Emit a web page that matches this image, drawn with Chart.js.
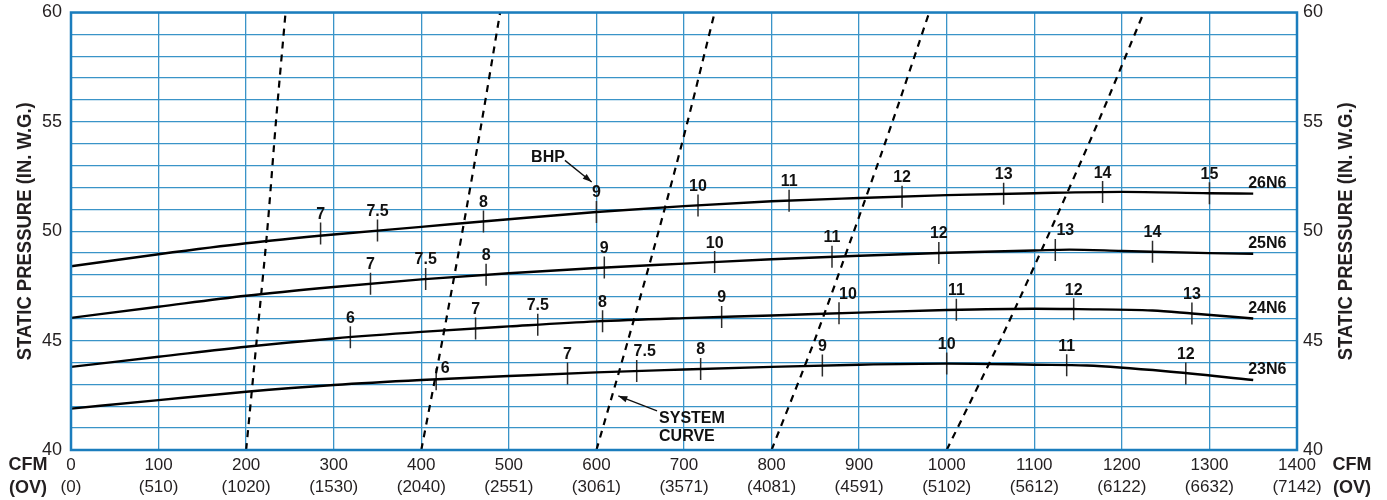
<!DOCTYPE html>
<html>
<head>
<meta charset="utf-8">
<script src="https://cdn.jsdelivr.net/npm/chart.js@4/dist/chart.umd.min.js"></script>
<style>
  html, body { margin: 0; padding: 0; background: #ffffff; }
  #wrap { width: 1387px; height: 500px; position: relative; }
</style>
</head>
<body>
<div id="wrap"><canvas id="fanChart" width="1387" height="500"></canvas></div>
<script>
// Axis ticks: airflow (CFM) with outlet velocity (OV) below, static pressure
const cfmTicks = [0, 100, 200, 300, 400, 500, 600, 700, 800, 900, 1000, 1100, 1200, 1300, 1400];
const ovTicks = ['(0)', '(510)', '(1020)', '(1530)', '(2040)', '(2551)', '(3061)', '(3571)',
                 '(4081)', '(4591)', '(5102)', '(5612)', '(6122)', '(6632)', '(7142)'];
const spTicks = [40, 45, 50, 55, 60];

// Fan curves (CFM vs static pressure)
const fan23Cfm = [0, 100, 200, 300, 400, 500, 600, 700, 800, 900, 1000, 1100, 1160, 1250, 1350];
const fan23Sp  = [41.89, 42.28, 42.66, 42.97, 43.2, 43.38, 43.55, 43.68, 43.8, 43.9, 43.95, 43.9, 43.86, 43.6, 43.2];
const fan24Cfm = [0, 100, 200, 300, 400, 500, 600, 700, 800, 900, 1000, 1100, 1150, 1235, 1280, 1350];
const fan24Sp  = [43.8, 44.26, 44.72, 45.1, 45.4, 45.65, 45.88, 46.03, 46.15, 46.28, 46.4, 46.46, 46.44, 46.38, 46.24, 46.01];
const fan25Cfm = [0, 100, 200, 300, 400, 500, 600, 700, 800, 900, 1000, 1100, 1140, 1200, 1300, 1350];
const fan25Sp  = [46.04, 46.55, 47.05, 47.45, 47.8, 48.08, 48.32, 48.52, 48.72, 48.88, 49.02, 49.12, 49.16, 49.1, 49.0, 48.97];
const fan26Cfm = [0, 100, 200, 300, 400, 500, 600, 700, 800, 900, 1000, 1100, 1200, 1300, 1350];
const fan26Sp  = [48.4, 48.95, 49.45, 49.85, 50.2, 50.55, 50.88, 51.15, 51.37, 51.52, 51.65, 51.74, 51.8, 51.74, 51.72];

// Brake horsepower marks along each fan curve
const bhp23Cfm = [417, 567, 646, 719, 858, 1000, 1137, 1273];
const bhp23Sp  = [43.23, 43.5, 43.61, 43.7, 43.86, 43.95, 43.88, 43.5];
const bhp23Labels = ['6', '7', '7.5', '8', '9', '10', '11', '12'];
const bhp24Cfm = [319, 462, 533, 607, 743, 877, 1011, 1145, 1280];
const bhp24Sp  = [45.16, 45.55, 45.73, 45.89, 46.08, 46.25, 46.41, 46.44, 46.24];
const bhp24Labels = ['6', '7', '7.5', '8', '9', '10', '11', '12', '13'];
const bhp25Cfm = [342, 405, 474, 609, 735, 869, 991, 1124, 1235];
const bhp25Sp  = [47.6, 47.82, 48.01, 48.34, 48.59, 48.83, 49.01, 49.14, 49.06];
const bhp25Labels = ['7', '7.5', '8', '9', '10', '11', '12', '13', '14'];
const bhp26Cfm = [285, 350, 471, 600, 716, 820, 949, 1065, 1178, 1300];
const bhp26Sp  = [49.9, 50.03, 50.45, 50.88, 51.18, 51.4, 51.58, 51.71, 51.79, 51.74];
const bhp26Labels = ['7', '7.5', '8', '9', '10', '11', '12', '13', '14', '15'];

// System curves (dashed)
const sysSp   = [40, 45, 50, 55, 60];
const sys1Cfm = [200, 212, 224, 234, 245];
const sys2Cfm = [400, 424, 447, 469, 490];
const sys3Cfm = [600, 636, 671, 704, 735];
const sys4Cfm = [800, 849, 894, 938, 980];
const sys5Cfm = [1000, 1061, 1118, 1173, 1225];

const FONT = '"Liberation Sans", Arial, Helvetica, sans-serif';
const GRID = '#3a94c8';
const FRAME = '#1b7dbd';
const INK = '#231f20';

const pts = (xs, ys) => xs.map((x, i) => ({ x: x, y: ys[i] }));

const fans = [
  { name: '23N6', cfm: fan23Cfm, sp: fan23Sp, bCfm: bhp23Cfm, bSp: bhp23Sp, bLab: bhp23Labels },
  { name: '24N6', cfm: fan24Cfm, sp: fan24Sp, bCfm: bhp24Cfm, bSp: bhp24Sp, bLab: bhp24Labels },
  { name: '25N6', cfm: fan25Cfm, sp: fan25Sp, bCfm: bhp25Cfm, bSp: bhp25Sp, bLab: bhp25Labels },
  { name: '26N6', cfm: fan26Cfm, sp: fan26Sp, bCfm: bhp26Cfm, bSp: bhp26Sp, bLab: bhp26Labels }
];
const systems = [sys1Cfm, sys2Cfm, sys3Cfm, sys4Cfm, sys5Cfm];

const datasets = [];
systems.forEach(s => datasets.push({
  type: 'line', data: pts(s, sysSp), borderColor: '#000', borderWidth: 2.2,
  borderDash: [7, 6], pointRadius: 0, tension: 0.3, fill: false, kind: 'system'
}));
fans.forEach(f => datasets.push({
  type: 'line', data: pts(f.cfm, f.sp), borderColor: '#000', borderWidth: 2.4,
  pointRadius: 0, cubicInterpolationMode: 'monotone', fill: false, kind: 'fan', fanName: f.name
}));
fans.forEach(f => datasets.push({
  type: 'scatter', data: pts(f.bCfm, f.bSp), showLine: false,
  pointStyle: 'line', rotation: 90, pointRadius: 11, borderWidth: 1.5,
  borderColor: '#2b2b2b', backgroundColor: '#2b2b2b', kind: 'bhp', labels: f.bLab, fanName: f.name
}));

// Small label nudges where a BHP number sits beside its mark
const labelNudge = {
  '23N6:6': [9, 8], '23N6:7.5': [8, 0], '24N6:10': [9, 0], '25N6:13': [10, 0]
};

function arrow(ctx, x1, y1, x2, y2) {
  ctx.beginPath();
  ctx.moveTo(x1, y1);
  ctx.lineTo(x2, y2);
  ctx.stroke();
  const a = Math.atan2(y2 - y1, x2 - x1);
  const L = 9, W = 3.2;
  ctx.beginPath();
  ctx.moveTo(x2, y2);
  ctx.lineTo(x2 - L * Math.cos(a) + W * Math.sin(a), y2 - L * Math.sin(a) - W * Math.cos(a));
  ctx.lineTo(x2 - L * Math.cos(a) - W * Math.sin(a), y2 - L * Math.sin(a) + W * Math.cos(a));
  ctx.closePath();
  ctx.fill();
}

const decorPlugin = {
  id: 'decor',
  afterDatasetsDraw(chart) {
    const ctx = chart.ctx;
    const a = chart.chartArea;
    const xs = chart.scales.x, ys = chart.scales.y;
    ctx.save();

    // plot frame
    ctx.strokeStyle = FRAME;
    ctx.lineWidth = 2.5;
    ctx.strokeRect(a.left, a.top, a.right - a.left, a.bottom - a.top);

    // BHP numbers above each mark
    ctx.fillStyle = '#111';
    ctx.font = 'bold 16px ' + FONT;
    ctx.textAlign = 'center';
    ctx.textBaseline = 'middle';
    chart.data.datasets.forEach(ds => {
      if (ds.kind !== 'bhp') return;
      ds.data.forEach((p, i) => {
        const n = labelNudge[ds.fanName + ':' + ds.labels[i]] || [0, 0];
        const px = xs.getPixelForValue(p.x) + n[0];
        const py = ys.getPixelForValue(p.y) - 19 + n[1];
        ctx.fillText(ds.labels[i], px, py);
      });
    });

    // fan names at the end of each curve
    ctx.font = 'bold 16px ' + FONT;
    ctx.textAlign = 'left';
    fans.forEach(f => {
      const last = f.cfm.length - 1;
      ctx.fillText(f.name, xs.getPixelForValue(f.cfm[last]) - 5, ys.getPixelForValue(f.sp[last]) - 10);
    });

    // BHP callout
    ctx.strokeStyle = '#111';
    ctx.lineWidth = 1.3;
    ctx.textAlign = 'center';
    ctx.fillText('BHP', xs.getPixelForValue(544.7), ys.getPixelForValue(53.37));
    arrow(ctx, xs.getPixelForValue(564), ys.getPixelForValue(53.24),
               xs.getPixelForValue(594.6), ys.getPixelForValue(52.25));

    // system curve callout
    ctx.textAlign = 'left';
    ctx.fillText('SYSTEM', xs.getPixelForValue(671.5), ys.getPixelForValue(41.45));
    ctx.fillText('CURVE', xs.getPixelForValue(671.5), ys.getPixelForValue(40.61));
    arrow(ctx, xs.getPixelForValue(669.2), ys.getPixelForValue(41.79),
               xs.getPixelForValue(625), ys.getPixelForValue(42.47));

    // axis titles
    ctx.fillStyle = INK;
    ctx.font = 'bold 21px ' + FONT;
    ctx.textAlign = 'center';
    const midY = (a.top + a.bottom) / 2;
    [25, 1346].forEach(x => {
      ctx.save();
      ctx.translate(x, midY);
      ctx.rotate(-Math.PI / 2);
      ctx.fillText('STATIC PRESSURE (IN. W.G.)', 0, 0, 258);
      ctx.restore();
    });
    ctx.font = 'bold 18px ' + FONT;
    [28, 1352].forEach(x => {
      ctx.fillText('CFM', x, a.bottom + 15);
      ctx.fillText('(OV)', x, a.bottom + 38);
    });
    ctx.restore();
  }
};

// keep the plot area fixed: no extra room reserved for end tick labels
const fixY = w => s => { s.width = w; s.paddingTop = 0; s.paddingBottom = 0; };

new Chart(document.getElementById('fanChart'), {
  data: { datasets: datasets },
  options: {
    responsive: false,
    animation: false,
    events: [],
    layout: { padding: { top: 12, left: 0, right: 0, bottom: 0 } },
    plugins: { legend: { display: false }, tooltip: { enabled: false } },
    scales: {
      x: {
        type: 'linear', position: 'bottom', min: 0, max: 1400,
        afterBuildTicks: s => { s.ticks = cfmTicks.map(v => ({ value: v })); },
        afterFit: s => { s.height = 50; s.paddingLeft = 0; s.paddingRight = 0; },
        ticks: {
          autoSkip: false, maxRotation: 0, padding: 4, color: INK,
          font: { family: FONT, size: 17, lineHeight: 1.3 },
          callback: (v) => [String(v), ovTicks[cfmTicks.indexOf(v)]]
        },
        grid: { color: GRID, lineWidth: 1.3, drawTicks: false },
        border: { display: false }
      },
      y: {
        type: 'linear', position: 'left', min: 40, max: 60,
        afterFit: fixY(71),
        ticks: {
          stepSize: 1, autoSkip: false, padding: 9, color: INK,
          font: { family: FONT, size: 18 },
          callback: v => (spTicks.includes(v) ? String(v) : '')
        },
        grid: { color: GRID, lineWidth: 1.3, drawTicks: false },
        border: { display: false }
      },
      y2: {
        type: 'linear', position: 'right', min: 40, max: 60,
        afterFit: fixY(90),
        ticks: {
          stepSize: 1, autoSkip: false, padding: 6, color: INK,
          font: { family: FONT, size: 18 },
          callback: v => (spTicks.includes(v) ? String(v) : '')
        },
        grid: { display: false, drawTicks: false },
        border: { display: false }
      }
    }
  },
  plugins: [decorPlugin]
});
</script>
</body>
</html>
